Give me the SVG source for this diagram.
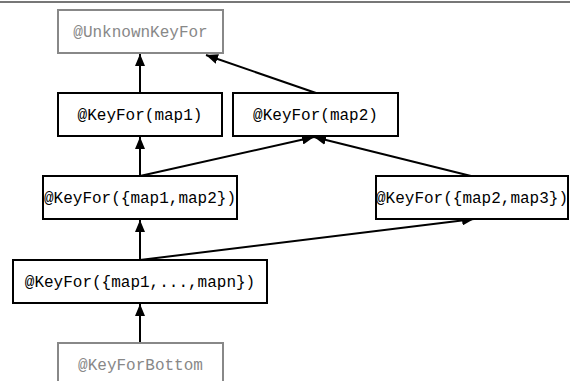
<svg xmlns="http://www.w3.org/2000/svg" width="570" height="381" viewBox="0 0 570 381">
<defs>
<marker id="arr" viewBox="0 0 12 10" refX="12" refY="5" markerWidth="12" markerHeight="10" markerUnits="userSpaceOnUse" orient="auto">
<path d="M0,0 L12,5 L0,10 z" fill="#000"/>
</marker>
<style>
.box{fill:#fff;stroke:#000;stroke-width:2}
.gbox{fill:#fff;stroke:#888;stroke-width:2}
.t{font-family:"Liberation Mono",monospace;font-size:16px;fill:#000;text-anchor:middle}
.gt{font-family:"Liberation Mono",monospace;font-size:16px;fill:#888;text-anchor:middle}
.c{stroke:#000;stroke-width:2;fill:none;marker-end:url(#arr)}
</style>
</defs>
<rect width="570" height="381" fill="#fff"/>
<line x1="0" y1="2" x2="570" y2="2" stroke="#777" stroke-width="2"/>
<g id="connectors">
<line class="c" x1="140" y1="93" x2="140" y2="54"/>
<line class="c" x1="316" y1="93" x2="206" y2="55"/>
<line class="c" x1="140" y1="176" x2="140" y2="137"/>
<line class="c" x1="140" y1="176" x2="314" y2="137"/>
<line class="c" x1="471" y1="176" x2="314" y2="137"/>
<line class="c" x1="140" y1="260" x2="140" y2="220"/>
<line class="c" x1="140" y1="260" x2="474" y2="219"/>
<line class="c" x1="140" y1="343" x2="140" y2="304"/>
</g>
<g id="unknown">
<rect class="gbox" x="58" y="10" width="165" height="43"/>
<text class="gt" x="140.5" y="37">@UnknownKeyFor</text>
</g>
<g id="map1">
<rect class="box" x="58" y="93" width="164" height="43"/>
<text class="t" x="140" y="120">@KeyFor(map1)</text>
</g>
<g id="map2">
<rect class="box" x="233" y="93" width="165" height="43"/>
<text class="t" x="315.5" y="120">@KeyFor(map2)</text>
</g>
<g id="map12">
<rect class="box" x="43" y="176" width="194" height="43"/>
<text class="t" x="140" y="203">@KeyFor({map1,map2})</text>
</g>
<g id="map23">
<rect class="box" x="376" y="176" width="192" height="43"/>
<text class="t" x="472" y="203">@KeyFor({map2,map3})</text>
</g>
<g id="mapn">
<rect class="box" x="13" y="260" width="254" height="43"/>
<text class="t" x="140" y="287">@KeyFor({map1,...,mapn})</text>
</g>
<g id="bottom">
<rect class="gbox" x="58" y="343" width="165" height="50"/>
<text class="gt" x="140.5" y="370">@KeyForBottom</text>
</g>
</svg>
